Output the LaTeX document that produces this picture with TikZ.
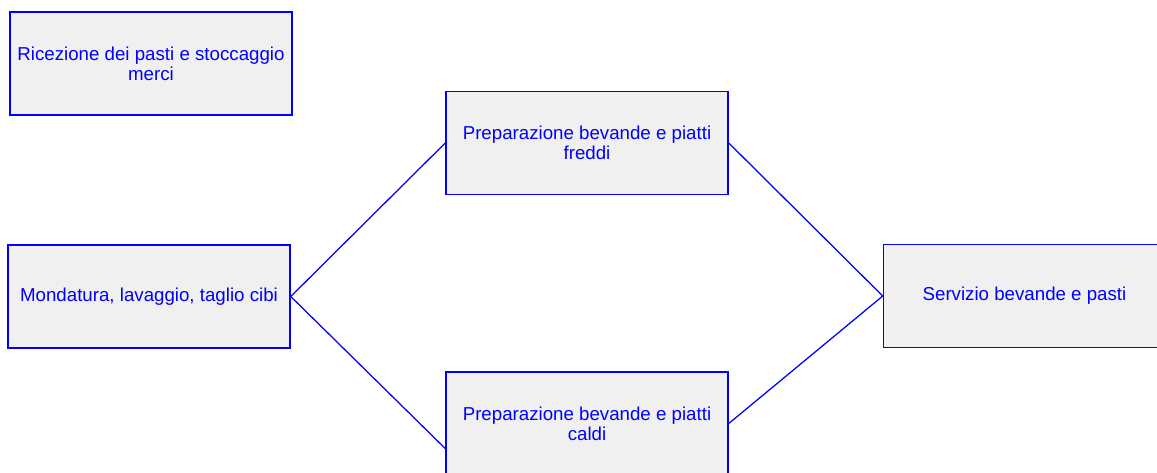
\documentclass[tikz,border=0pt]{standalone}
\usepackage{fontspec}
\setmainfont{Liberation Sans}
\definecolor{flowblue}{HTML}{0000FF}
\definecolor{flowfill}{HTML}{F0F0F0}
\usetikzlibrary{calc, positioning}

\begin{document}
\begin{tikzpicture}[scale=1.0,
      phase/.style={draw=flowblue, fill=flowfill, line width=1.1pt, text=flowblue,
         minimum width=7.05cm, minimum height=2.575cm, align=center, inner sep=0pt,
         font=\fontsize{13.3}{14.4}\selectfont},
      link/.style={flowblue, line width=0.9pt}]
            \clip (0,0) rectangle (28.925,11.8);
            % Phases
            \node[phase] (ricezione) at (3.775,10.2125) {Ricezione dei pasti e stoccaggio\\merci};
            \node[phase] (freddi) at (14.675,8.225) {Preparazione bevande e piatti\\freddi};
            \node[phase] (mondatura) at (3.725,4.3875) {Mondatura, lavaggio, taglio cibi};
            \node[phase] (servizio) at (25.6125,4.4) {Servizio bevande e pasti};
            \node[phase] (caldi) at (14.675,1.2125) {Preparazione bevande e piatti\\caldi};
            % Links
            \draw[link] (mondatura.east) -- (freddi.west);
            \draw[link] (mondatura.east) -- (caldi.190);
            \draw[link] (freddi.east) -- (servizio.west);
            \draw[link] (caldi.east) -- (servizio.west);
         \end{tikzpicture}
\end{document}
